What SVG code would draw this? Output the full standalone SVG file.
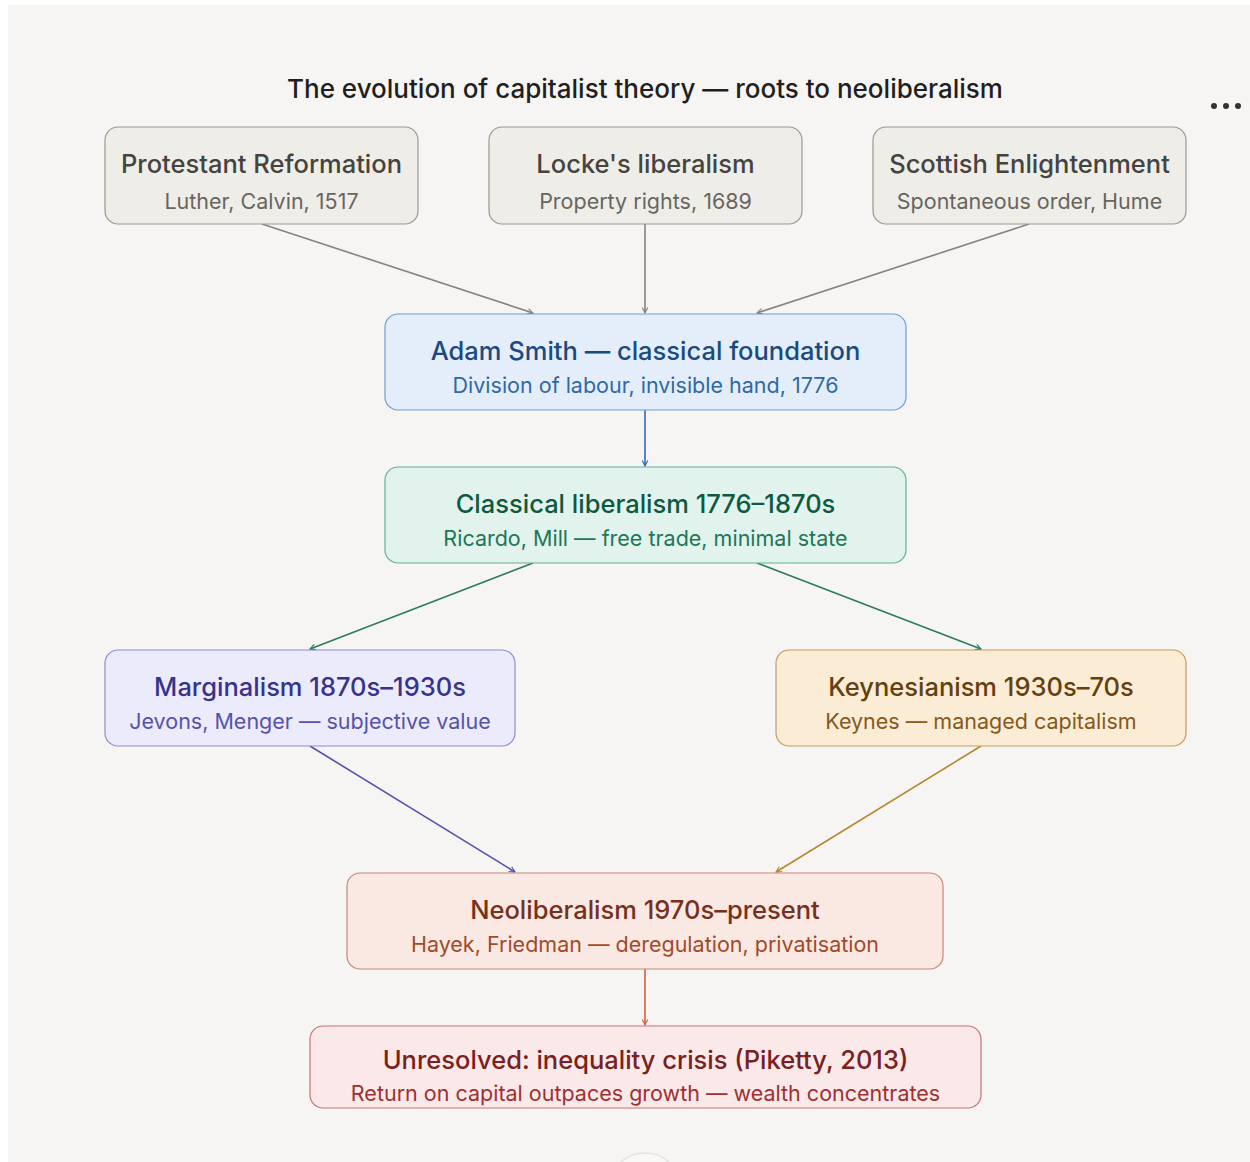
<svg xmlns="http://www.w3.org/2000/svg" width="1250" height="1162" viewBox="0 0 1250 1162">
  <defs>
    <marker id="ah" viewBox="0 0 10 10" refX="9" refY="5" markerWidth="7" markerHeight="7" orient="auto" markerUnits="userSpaceOnUse">
      <path d="M1,1 L9,5 L1,9" fill="none" stroke="context-stroke" stroke-width="1.6"/>
    </marker>
    <style>
      text { font-family: "Inter", "Liberation Sans", sans-serif; text-anchor: middle; }
      .title { font-size: 26px; font-weight: 500; fill: #1f1f1f; }
      .t { font-size: 25.5px; font-weight: 500; }
      .s { font-size: 21.5px; }
      .box { stroke-width: 1.2; }
      .edge { fill: none; stroke-width: 1.6; marker-end: url(#ah); }
      .grey rect { fill: #efede8; stroke: #9a9894; }
      .grey .t { fill: #45433f; }
      .grey .s { fill: #68655f; }
    </style>
  </defs>

  <!-- canvas -->
  <rect width="1250" height="1162" fill="#ffffff"/>
  <rect x="8" y="5" width="1242" height="1157" fill="#f7f5f3"/>
  <circle cx="645" cy="1190" r="37" fill="#f9f8f7" stroke="#e6e3df" stroke-width="1.5"/>

  <text class="title" x="645" y="98">The evolution of capitalist theory — roots to neoliberalism</text>
  <g id="menu" fill="#333">
    <circle cx="1214" cy="106" r="3"/>
    <circle cx="1226" cy="106" r="3"/>
    <circle cx="1238" cy="106" r="3"/>
  </g>

  <!-- connectors -->
  <g id="connectors">
    <line class="edge" x1="262" y1="224" x2="533" y2="313" stroke="#85837e"/>
    <line class="edge" x1="645" y1="224" x2="645" y2="313" stroke="#85837e"/>
    <line class="edge" x1="1029" y1="224" x2="757" y2="313" stroke="#85837e"/>
    <line class="edge" x1="645" y1="410" x2="645" y2="466" stroke="#2f6db0"/>
    <line class="edge" x1="533" y1="563" x2="310" y2="649" stroke="#2a7d5e"/>
    <line class="edge" x1="757" y1="563" x2="981" y2="649" stroke="#2a7d5e"/>
    <line class="edge" x1="310" y1="746" x2="515" y2="872" stroke="#5451b0"/>
    <line class="edge" x1="981" y1="746" x2="776" y2="872" stroke="#b8862e"/>
    <line class="edge" x1="645" y1="969" x2="645" y2="1025" stroke="#d0613e"/>
  </g>

  <!-- roots -->
  <g id="reformation" class="grey">
    <rect class="box" x="105" y="127" width="313" height="97" rx="13"/>
    <text class="t" x="261.5" y="173">Protestant Reformation</text>
    <text class="s" x="261.5" y="209">Luther, Calvin, 1517</text>
  </g>
  <g id="locke" class="grey">
    <rect class="box" x="489" y="127" width="313" height="97" rx="13"/>
    <text class="t" x="645.5" y="173">Locke's liberalism</text>
    <text class="s" x="645.5" y="209">Property rights, 1689</text>
  </g>
  <g id="scottish" class="grey">
    <rect class="box" x="873" y="127" width="313" height="97" rx="13"/>
    <text class="t" x="1029.5" y="173">Scottish Enlightenment</text>
    <text class="s" x="1029.5" y="209">Spontaneous order, Hume</text>
  </g>

  <g id="smith">
    <rect class="box" x="385" y="314" width="521" height="96" rx="13" fill="#e4eefa" stroke="#6f9dd2"/>
    <text class="t" x="645.5" y="360" fill="#1b4a80">Adam Smith — classical foundation</text>
    <text class="s" x="645.5" y="393" fill="#2f68a6">Division of labour, invisible hand, 1776</text>
  </g>

  <g id="classical">
    <rect class="box" x="385" y="467" width="521" height="96" rx="13" fill="#e1f3ec" stroke="#62b196"/>
    <text class="t" x="645.5" y="513" fill="#0f5940">Classical liberalism 1776–1870s</text>
    <text class="s" x="645.5" y="546" fill="#1e7657">Ricardo, Mill — free trade, minimal state</text>
  </g>

  <g id="marginalism">
    <rect class="box" x="105" y="650" width="410" height="96" rx="13" fill="#ecebfb" stroke="#8f8ad2"/>
    <text class="t" x="310" y="696" fill="#37338c">Marginalism 1870s–1930s</text>
    <text class="s" x="310" y="729" fill="#5652ac">Jevons, Menger — subjective value</text>
  </g>

  <g id="keynesianism">
    <rect class="box" x="776" y="650" width="410" height="96" rx="13" fill="#faecd5" stroke="#c49c5e"/>
    <text class="t" x="981" y="696" fill="#65400f">Keynesianism 1930s–70s</text>
    <text class="s" x="981" y="729" fill="#86581c">Keynes — managed capitalism</text>
  </g>

  <g id="neoliberalism">
    <rect class="box" x="347" y="873" width="596" height="96" rx="13" fill="#fae9e2" stroke="#c48a78"/>
    <text class="t" x="645" y="919" fill="#76301b">Neoliberalism 1970s–present</text>
    <text class="s" x="645" y="952" fill="#a2492b">Hayek, Friedman — deregulation, privatisation</text>
  </g>

  <g id="unresolved">
    <rect class="box" x="310" y="1026" width="671" height="82" rx="13" fill="#fbe8e8" stroke="#c87474"/>
    <text class="t" x="645.5" y="1069" fill="#792121">Unresolved: inequality crisis (Piketty, 2013)</text>
    <text class="s" x="645.5" y="1101" fill="#9e3030">Return on capital outpaces growth — wealth concentrates</text>
  </g>
</svg>
